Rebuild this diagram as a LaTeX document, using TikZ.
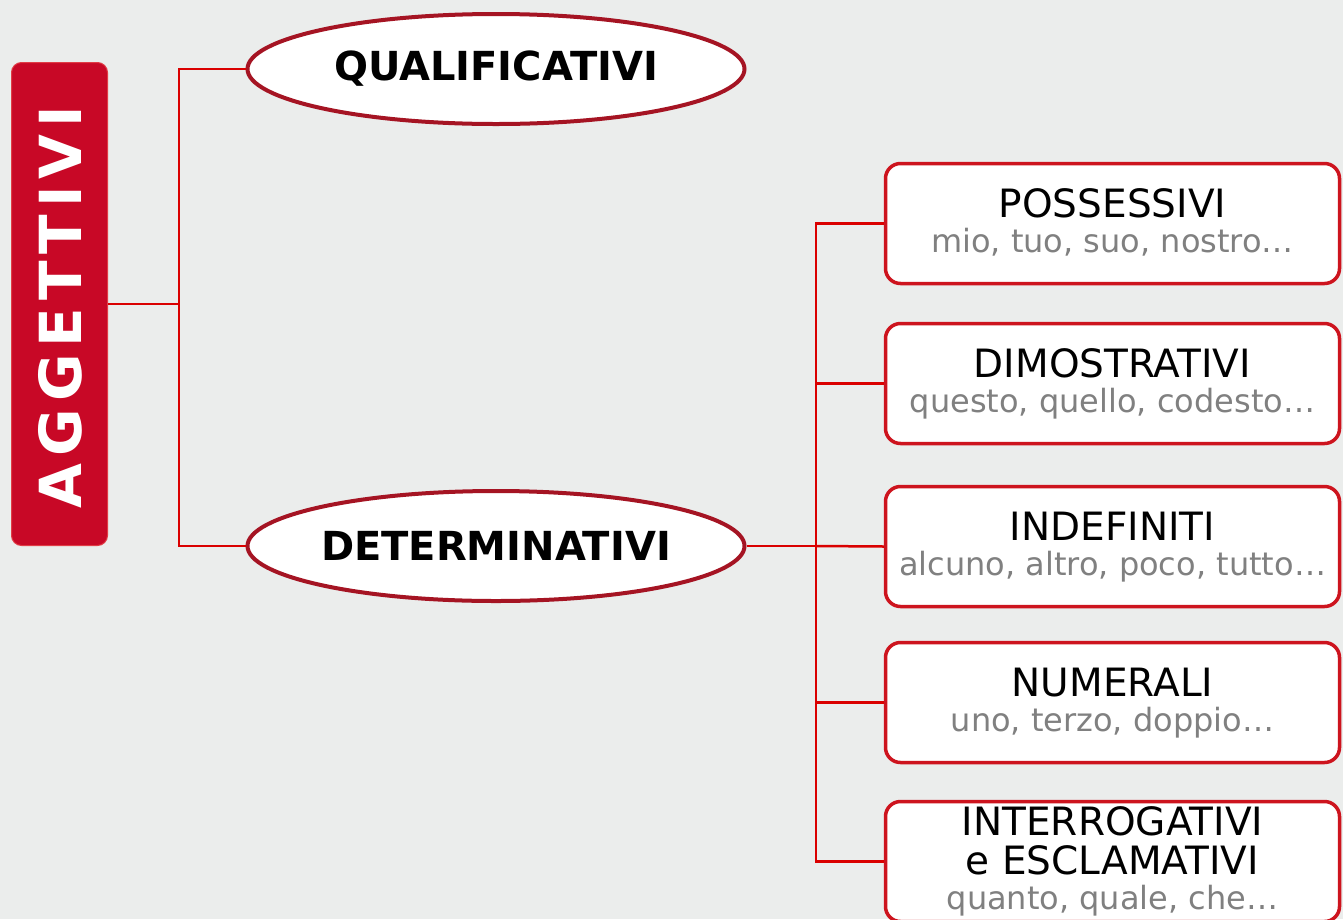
\documentclass[tikz,border=0pt]{standalone}
\usepackage{fontspec}
\setmainfont{DejaVu Sans}
\usetikzlibrary{shapes.geometric,calc}
\definecolor{bg}{RGB}{235,237,236}
\definecolor{aggred}{RGB}{200,8,38}
\definecolor{aggedge}{RGB}{225,60,70}
\definecolor{linered}{RGB}{218,0,0}
\definecolor{ellred}{RGB}{165,20,35}
\definecolor{boxred}{RGB}{205,20,30}
\definecolor{subgray}{RGB}{128,128,128}
\begin{document}
\begin{tikzpicture}[x=1pt,y=-1pt,
  conn/.style={draw=linered,line width=2.5pt},
  aggbox/.style={rectangle,rounded corners=10pt,fill=aggred,draw=aggedge,line width=1pt,minimum width=96pt,minimum height=483pt,inner sep=0pt},
  aggtxt/.style={rotate=90,text=white,font=\fontsize{58}{64}\selectfont\bfseries,inner sep=0pt},
  ell/.style={ellipse,draw=ellred,line width=4pt,fill=white,minimum width=497pt,minimum height=110pt,inner sep=0pt,font=\fontsize{40}{48}\selectfont\bfseries},
  catbox/.style={rectangle,rounded corners=15pt,draw=boxred,line width=3.5pt,fill=white,minimum width=454pt,minimum height=120pt,inner sep=0pt},
  title/.style={anchor=base,font=\fontsize{39}{44}\selectfont,text=black,inner sep=0pt},
  sub/.style={anchor=base,font=\fontsize{32}{36}\selectfont,text=subgray,inner sep=0pt}]
\useasboundingbox (0,0) rectangle (1343,919);
\fill[bg] (0,0) rectangle (1343,919);

% root
\node[aggbox] (agg) at (59.5,304) {};
\node[aggtxt] (aggt) at (60,307) {A\kern7pt G\kern7pt G\kern7pt E\kern7pt T\kern7pt T\kern7pt I\kern7pt V\kern7pt I};

% ellipses
\node[ell] (qual) at (496,69) {QUALIFICATIVI};
\node[ell] (det) at (496,546) {DETERMINATIVI};

% category boxes
\node[catbox] (b1) at (1112.5,223.5) {};
\node[catbox] (b2) at (1112.5,383.5) {};
\node[catbox] (b3) at (1112.5,546.5) {};
\node[catbox] (b4) at (1112.5,702.5) {};
\node[catbox] (b5) at (1112.5,861.5) {};

\node[title] (t1) at ([yshift=-56pt]b1.north) {POSSESSIVI};
\node[sub]   (s1) at ([yshift=-91pt]b1.north) {mio, tuo, suo, nostro…};
\node[title] (t2) at ([yshift=-56pt]b2.north) {DIMOSTRATIVI};
\node[sub]   (s2) at ([yshift=-91pt]b2.north) {questo, quello, codesto…};
\node[title] (t3) at ([yshift=-56pt]b3.north) {INDEFINITI};
\node[sub]   (s3) at ([yshift=-91pt]b3.north) {alcuno, altro, poco, tutto…};
\node[title] (t4) at ([yshift=-56pt]b4.north) {NUMERALI};
\node[sub]   (s4) at ([yshift=-91pt]b4.north) {uno, terzo, doppio…};
\node[title] (t5a) at ([yshift=-36pt]b5.north) {INTERROGATIVI};
\node[title] (t5b) at ([yshift=-75pt]b5.north) {e ESCLAMATIVI};
\node[sub]   (s5) at ([yshift=-110pt]b5.north) {quanto, quale, che…};

% junctions
\coordinate (j1) at (179,304);
\coordinate (j2) at (816,546);

% connectors
\draw[conn] (agg.east) -- (j1);
\draw[conn] (qual.west) -| (j1) |- (det.west);
\draw[conn] (det.east) -- (j2);
\draw[conn] (b1.west) -| (j2) |- (b5.west);
\draw[conn] (j2) |- (b2.west);
\draw[conn] (j2) -- (b3.west);
\draw[conn] (j2) |- (b4.west);
\end{tikzpicture}
\end{document}
